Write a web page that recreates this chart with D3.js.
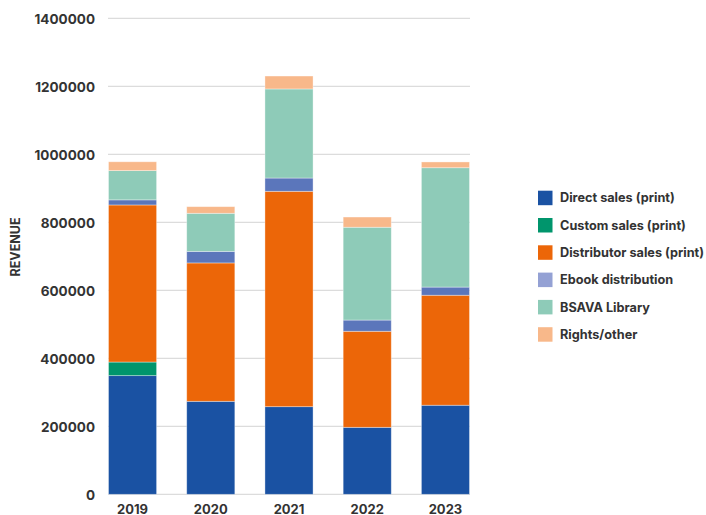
<!DOCTYPE html>
<html><head><meta charset="utf-8">
<script src="https://cdn.jsdelivr.net/npm/d3@7"></script>
<style>body{margin:0;background:#fff}svg{display:block;font-family:Inter,"Noto Sans",sans-serif}</style>
</head><body>
<svg id="c" width="706" height="515"></svg>
<script>
const years = ["2019","2020","2021","2022","2023"];
const seriesNames = ["Direct sales (print)","Custom sales (print)","Distributor sales (print)","Ebook distribution","BSAVA Library","Rights/other"];
const directSales = [349000, 273500, 257700, 197000, 262000];
const customSales = [40000, 0, 0, 0, 0];
const distributorSales = [462000, 407000, 633500, 282500, 323500];
const ebookDistribution = [15000, 34000, 39000, 33000, 24000];
const bsavaLibrary = [86000, 112000, 262000, 273000, 351000];
const rightsOther = [26000, 19500, 38000, 30000, 17000];
const yTicks = [0,200000,400000,600000,800000,1000000,1200000,1400000];
const barColors = ["#1a52a3","#00956c","#ec6608","#5b76bb","#8ecbb8","#f8b88a"];
const legendColors = ["#1a52a3","#00956c","#ec6608","#94a1d4","#8ecbb8","#f8b88a"];

const seriesVals = [directSales, customSales, distributorSales, ebookDistribution, bsavaLibrary, rightsOther];
const rows = years.map((yr,i)=>{const o={year:yr}; seriesNames.forEach((s,k)=>o[s]=seriesVals[k][i]); return o;});
const stack = d3.stack().keys(seriesNames)(rows);

const svg = d3.select("#c");
const x = d3.scaleBand().domain(years).range([108.5,469.5]).paddingInner(0.385).paddingOuter(0);
const y = d3.scaleLinear().domain([0,1400000]).range([494.3,18.3]);

// gridlines
svg.append("g").selectAll("line").data(yTicks).join("line")
  .attr("x1",108).attr("x2",470)
  .attr("y1",d=>y(d)).attr("y2",d=>y(d))
  .attr("stroke","#dcdcdc").attr("stroke-width",1.3);

// y axis labels
const yAxis = d3.axisLeft(y).tickValues(yTicks).tickFormat(d3.format("d")).tickSize(0).tickPadding(0);
const ga = svg.append("g").attr("transform","translate(95,0)").call(yAxis);
ga.select(".domain").remove();
ga.selectAll("text").attr("font-family","Inter").attr("font-weight",700).attr("font-size",13.5).attr("fill","#333").attr("dy","0.35em");

// bars
svg.append("g").selectAll("g").data(stack).join("g")
  .attr("fill",(d,i)=>barColors[i])
  .selectAll("rect").data(d=>d).join("rect")
  .attr("x",d=>x(d.data.year))
  .attr("width",x.bandwidth())
  .attr("y",d=>y(d[1]))
  .attr("height",d=>Math.max(0,y(d[0])-y(d[1])))
  .attr("stroke",d=>(d[1]-d[0])>0?"rgba(255,255,255,0.45)":"none").attr("stroke-width",0.8);

// x axis labels
const xAxis = d3.axisBottom(x).tickSize(0).tickPadding(0);
const gx = svg.append("g").attr("transform","translate(0,513.5)").call(xAxis);
gx.select(".domain").remove();
gx.selectAll("text").attr("font-family","Inter").attr("font-weight",700).attr("font-size",13).attr("fill","#333").attr("dy","0");

// y title
svg.append("text").attr("transform","translate(20,247) rotate(-90)")
  .attr("text-anchor","middle").attr("font-family","Inter").attr("font-weight",700)
  .attr("font-size",12.5).attr("fill","#333").text("REVENUE");

// legend
const lg = svg.append("g").selectAll("g").data(seriesNames).join("g")
  .attr("transform",(d,i)=>`translate(538,${198+i*27.3})`);
lg.append("rect").attr("x",0).attr("y",-7.3).attr("width",14.5).attr("height",14.5).attr("fill",(d,i)=>legendColors[i]);
lg.append("text").attr("x",22).attr("y",0).attr("dy","0.35em").attr("font-family","Inter").attr("font-weight",700)
  .attr("font-size",12.7).attr("fill","#333").text(d=>d);
</script>
</body></html>
